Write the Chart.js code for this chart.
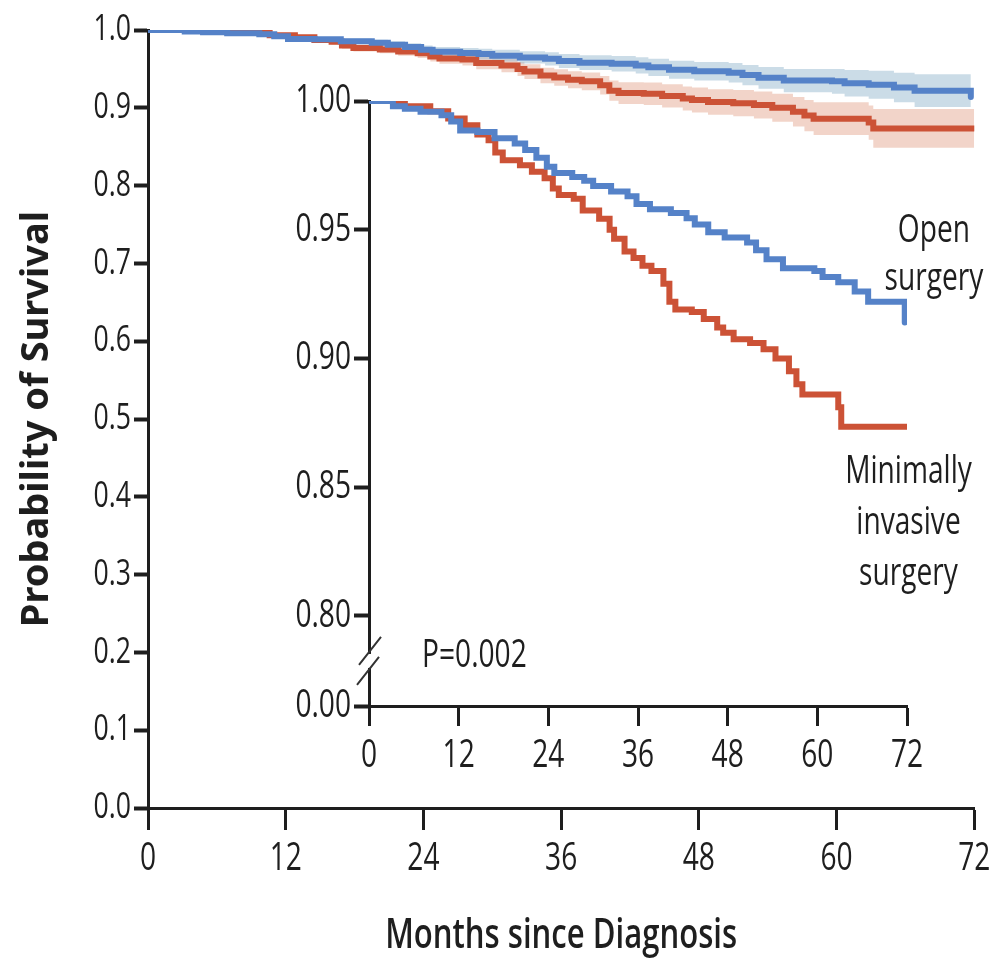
<!DOCTYPE html>
<html>
<head>
<meta charset="utf-8">
<script src="https://cdn.jsdelivr.net/npm/chart.js@4.4.1/dist/chart.umd.min.js"></script>
<style>
  html, body { margin: 0; padding: 0; background: #fff; }
  #wrap { position: relative; width: 1002px; height: 961px; }
  #wrap canvas { position: absolute; left: 0; top: 0; }
</style>
</head>
<body>
<div id="wrap">
  <canvas id="mainChart" width="1002" height="961"></canvas>
  <canvas id="insetChart" width="1002" height="961"></canvas>
</div>
<script>
// Kaplan-Meier survival, open vs minimally invasive surgery

// Open surgery (step points: month, survival, 95% band)
const OPEN_MONTHS = [0, 3.2, 4.8, 6.9, 9.7, 11.0, 12.2, 14.5, 16.8, 19.5, 20.9, 22.4, 23.8, 24.8, 27.2, 28.8, 30.0, 32.4, 34.6, 35.8, 37.6, 40.4, 42.5, 43.6, 45.4, 47.6, 50.6, 51.8, 53.2, 55.4, 59.6, 60.7, 62.8, 65.0, 66.8, 71.7];
const OPEN_SURV = [1.000, 0.998, 0.997, 0.9958, 0.9945, 0.992, 0.9885, 0.988, 0.9855, 0.9835, 0.981, 0.978, 0.9745, 0.972, 0.9705, 0.969, 0.967, 0.9648, 0.963, 0.960, 0.958, 0.9565, 0.9545, 0.952, 0.949, 0.947, 0.945, 0.942, 0.9385, 0.935, 0.934, 0.9316, 0.9296, 0.926, 0.922, 0.914];
const OPEN_HI = [1.000, 0.999, 0.9985, 0.9978, 0.9965, 0.9945, 0.9915, 0.991, 0.989, 0.9875, 0.9855, 0.983, 0.980, 0.978, 0.977, 0.976, 0.9745, 0.9728, 0.9715, 0.969, 0.9675, 0.9665, 0.965, 0.963, 0.9605, 0.959, 0.9575, 0.955, 0.9525, 0.950, 0.950, 0.9486, 0.9476, 0.945, 0.943, 0.937];
const OPEN_LO = [1.000, 0.997, 0.9955, 0.9938, 0.9925, 0.9895, 0.9855, 0.985, 0.982, 0.9795, 0.9765, 0.973, 0.969, 0.966, 0.964, 0.962, 0.9595, 0.9568, 0.9545, 0.951, 0.9485, 0.9465, 0.944, 0.941, 0.9375, 0.935, 0.9325, 0.929, 0.9245, 0.920, 0.918, 0.9146, 0.9116, 0.907, 0.901, 0.891];

// Minimally invasive surgery
const MIS_MONTHS = [0, 4.8, 8.2, 10.6, 12.8, 14.5, 16.0, 16.9, 17.9, 20.2, 21.8, 23.5, 24.6, 25.4, 27.4, 28.6, 30.8, 32.2, 32.8, 34.2, 35.4, 36.6, 37.8, 39.4, 40.2, 41.0, 43.2, 44.8, 46.6, 47.4, 48.8, 51.0, 52.8, 54.4, 56.2, 57.2, 58.0, 62.8, 63.2, 72.0];
const MIS_SURV = [1.000, 0.998, 0.996, 0.9932, 0.9906, 0.987, 0.9848, 0.980, 0.977, 0.975, 0.9725, 0.970, 0.966, 0.9635, 0.962, 0.9575, 0.9543, 0.950, 0.9465, 0.9415, 0.939, 0.936, 0.934, 0.929, 0.922, 0.919, 0.918, 0.9153, 0.912, 0.910, 0.9075, 0.906, 0.9036, 0.900, 0.895, 0.890, 0.886, 0.881, 0.8735, 0.8735];
const MIS_HI = [1.000, 0.999, 0.9975, 0.9952, 0.9931, 0.990, 0.9883, 0.984, 0.9815, 0.980, 0.978, 0.976, 0.9725, 0.9705, 0.9695, 0.9655, 0.9628, 0.959, 0.956, 0.9515, 0.9495, 0.947, 0.9455, 0.941, 0.935, 0.933, 0.9325, 0.9303, 0.9275, 0.926, 0.924, 0.923, 0.9211, 0.918, 0.914, 0.910, 0.907, 0.903, 0.8985, 0.8995];
const MIS_LO = [1.000, 0.997, 0.9945, 0.9912, 0.9881, 0.984, 0.9813, 0.976, 0.9725, 0.970, 0.967, 0.964, 0.9595, 0.9565, 0.9545, 0.9495, 0.9458, 0.941, 0.937, 0.9315, 0.9285, 0.925, 0.9225, 0.917, 0.909, 0.905, 0.9035, 0.9003, 0.8965, 0.894, 0.891, 0.889, 0.8861, 0.882, 0.876, 0.870, 0.865, 0.859, 0.8485, 0.8475];

// Axis ticks
const MAIN_X_TICKS = [0, 12, 24, 36, 48, 60, 72];
const MAIN_X_LABELS = ["0", "12", "24", "36", "48", "60", "72"];
const MAIN_Y_TICKS = [0, 0.1, 0.2, 0.3, 0.4, 0.5, 0.6, 0.7, 0.8, 0.9, 1.0];
const MAIN_Y_LABELS = ["0.0", "0.1", "0.2", "0.3", "0.4", "0.5", "0.6", "0.7", "0.8", "0.9", "1.0"];
// inset axis is broken: its bottom tick stands for 0.00
const INSET_Y_TICKS = [0.765, 0.80, 0.85, 0.90, 0.95, 1.00];
const INSET_Y_LABELS = ["0.00", "0.80", "0.85", "0.90", "0.95", "1.00"];

const BLUE = "#5582c8";
const RED = "#cc5236";
const INK = "#1e1e1e";
// no condensed face installed: Open Sans gets squeezed horizontally when drawn
const NARROW = "'Open Sans', sans-serif";
const SQUEEZE = 0.74;

// Chart.js draws all its text with fillText; squeeze the narrow family
const condensedText = {
  id: "condensedText",
  beforeInit(chart) {
    const ctx = chart.ctx;
    const fill = ctx.fillText.bind(ctx);
    ctx.fillText = function (text, x, y) {
      if (!this.font.includes("Open Sans")) return fill(text, x, y);
      this.save();
      this.translate(x, y);
      this.scale(SQUEEZE, 1);
      fill(text, 0, 0);
      this.restore();
    };
  },
};

const pts = (xs, ys) => xs.map((x, i) => ({ x, y: ys[i] }));

function lineSet(label, xs, ys, color) {
  return {
    label, data: pts(xs, ys), borderColor: color, borderWidth: 6,
    stepped: true, pointRadius: 0, fill: false,
    borderCapStyle: "round", borderJoinStyle: "miter",
  };
}
function bandSet(xs, ys, color, fill) {
  return {
    data: pts(xs, ys), borderWidth: 0, borderColor: "transparent",
    backgroundColor: color, stepped: true, pointRadius: 0, fill,
  };
}

function axisX(ticks, labels, tickLen, pad, extra) {
  return Object.assign({
    type: "linear", min: 0, max: 72,
    afterBuildTicks: s => { s.ticks = ticks.map(v => ({ value: v })); },
    ticks: {
      color: INK, padding: pad, maxRotation: 0, autoSkip: false,
      font: { family: NARROW, size: 38 },
      callback: (v, i) => labels[i],
    },
    grid: { drawOnChartArea: false, drawTicks: true, tickLength: tickLen, tickWidth: 3, tickColor: INK },
    border: { display: true, color: INK, width: 3 },
  }, extra);
}
function axisY(min, max, ticks, labels, tickLen, size, extra) {
  return Object.assign({
    min, max,
    afterBuildTicks: s => { s.ticks = ticks.map(v => ({ value: v })); },
    ticks: {
      color: INK, padding: 3, autoSkip: false,
      font: { family: NARROW, size },
      callback: (v, i) => labels[i],
    },
    grid: { drawOnChartArea: false, drawTicks: true, tickLength: tickLen, tickWidth: 4, tickColor: INK },
    border: { display: true, color: INK, width: 3 },
  }, extra);
}

// Main chart, 0–1 scale with confidence bands
new Chart(document.getElementById("mainChart"), {
  type: "line",
  data: {
    datasets: [
      lineSet("Open surgery", OPEN_MONTHS, OPEN_SURV, BLUE),
      lineSet("Minimally invasive surgery", MIS_MONTHS, MIS_SURV, RED),
      bandSet(OPEN_MONTHS, OPEN_HI, "rgba(160,192,212,0.55)", "+1"),
      bandSet(OPEN_MONTHS, OPEN_LO, "transparent", false),
      bandSet(MIS_MONTHS, MIS_HI, "rgba(226,160,135,0.45)", "+1"),
      bandSet(MIS_MONTHS, MIS_LO, "transparent", false),
    ],
  },
  options: {
    responsive: false,
    animation: false,
    events: [],
    layout: { padding: { left: 0, top: 30, right: 22, bottom: 0 } },
    plugins: { legend: { display: false }, tooltip: { enabled: false } },
    scales: {
      x: axisX(MAIN_X_TICKS, MAIN_X_LABELS, 22, 6, {
        title: {
          display: true, text: "Months since Diagnosis", color: INK,
          font: { family: NARROW, size: 42, weight: 600 },
          padding: { top: 0, bottom: 0 },
        },
        afterFit: s => { s.height = 961 - 808; },
      }),
      y: axisY(0, 1, MAIN_Y_TICKS, MAIN_Y_LABELS, 14, 36, {
        title: {
          display: true, text: "Probability of Survival", color: INK,
          font: { family: "'Noto Sans', sans-serif", size: 38, weight: "bold" },
          padding: { top: 14, bottom: 0 },
        },
        afterFit: s => { s.width = 148; },
      }),
    },
  },
  plugins: [condensedText],
});

// Inset labels, placed in inset data units
const INSET_NOTES = [
  { text: "Open", x: 75.6, y: 0.9452, align: "center" },
  { text: "surgery", x: 75.6, y: 0.9266, align: "center" },
  { text: "Minimally", x: 72.2, y: 0.8517, align: "center" },
  { text: "invasive", x: 72.2, y: 0.8318, align: "center" },
  { text: "surgery", x: 72.2, y: 0.8120, align: "center" },
  { text: "P=0.002", x: 7.1, y: 0.7802, align: "left" },
];

const insetDecor = {
  id: "insetDecor",
  afterDraw(chart) {
    const { ctx, scales: { x, y } } = chart;
    ctx.save();
    // axis break
    const ax = x.getPixelForValue(0);
    const cy = (y.getPixelForValue(0.80) + y.bottom) / 2;
    ctx.fillStyle = "#fff";
    ctx.fillRect(ax - 3, cy - 7, 6, 14);
    ctx.strokeStyle = "#333";
    ctx.lineWidth = 2;
    ctx.beginPath();
    ctx.moveTo(ax - 10, cy + 4); ctx.lineTo(ax + 12, cy - 24);
    ctx.moveTo(ax - 12, cy + 24); ctx.lineTo(ax + 10, cy - 4);
    ctx.stroke();
    // text notes
    ctx.fillStyle = INK;
    ctx.font = `38px ${NARROW}`;
    ctx.textBaseline = "alphabetic";
    INSET_NOTES.forEach(n => {
      ctx.textAlign = n.align;
      ctx.fillText(n.text, x.getPixelForValue(n.x), y.getPixelForValue(n.y));
    });
    ctx.restore();
  },
};

// Inset chart, zoomed 0.80–1.00
new Chart(document.getElementById("insetChart"), {
  type: "line",
  data: {
    datasets: [
      lineSet("Open surgery", OPEN_MONTHS, OPEN_SURV, BLUE),
      lineSet("Minimally invasive surgery", MIS_MONTHS, MIS_SURV, RED),
    ],
  },
  options: {
    responsive: false,
    animation: false,
    events: [],
    layout: { padding: { left: 250, top: 101, right: 95, bottom: 0 } },
    plugins: { legend: { display: false }, tooltip: { enabled: false } },
    scales: {
      x: axisX(MAIN_X_TICKS, MAIN_X_LABELS, 20, 7, {
        afterFit: s => { s.height = 961 - 706; },
      }),
      y: axisY(0.765, 1.0, INSET_Y_TICKS, INSET_Y_LABELS, 15, 38, {
        afterFit: s => { s.width = 119; },
      }),
    },
  },
  plugins: [condensedText, insetDecor],
});
</script>
</body>
</html>
